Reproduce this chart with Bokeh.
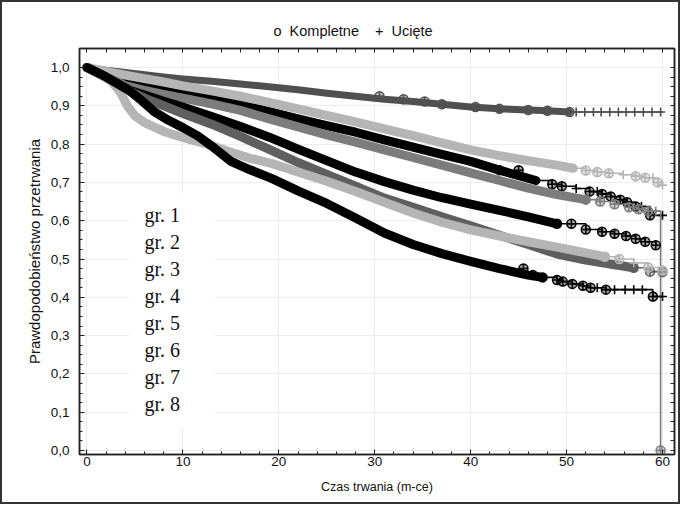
import numpy as np
from bokeh.plotting import figure
from bokeh.models import (Range1d, LinearAxis, FixedTicker, Label, BoxAnnotation)
from bokeh.embed import file_html
from bokeh.resources import INLINE

# ---------------- data ----------------
x_ticks = [0, 10, 20, 30, 40, 50, 60]
x_minor = [0, 2, 4, 6, 8, 10, 12, 14, 16, 18, 20, 22, 24, 26, 28, 30, 32, 34, 36, 38,
           40, 42, 44, 46, 48, 50, 52, 54, 56, 58, 60]
y_ticks = [0.0, 0.1, 0.2, 0.3, 0.4, 0.5, 0.6, 0.7, 0.8, 0.9, 1.0]
y_tick_labels = ["0,0", "0,1", "0,2", "0,3", "0,4", "0,5", "0,6", "0,7", "0,8", "0,9", "1,0"]
y_minor = [round(0.025 * i, 3) for i in range(0, 41)]

group_labels = ["gr. 1", "gr. 2", "gr. 3", "gr. 4", "gr. 5", "gr. 6", "gr. 7", "gr. 8"]
legend_labels = ["Kompletne", "Ucięte"]
legend_symbols = ["o", "+"]

# curve 1 (top, dark gray)
t1 = [0, 2, 4, 6, 8, 10, 13, 16, 19, 22, 25, 28, 31, 34, 37, 40, 43, 46, 48, 50.3, 60]
s1 = [1.0, 0.993, 0.987, 0.981, 0.975, 0.970, 0.964, 0.957, 0.950, 0.942, 0.933, 0.925,
      0.917, 0.911, 0.904, 0.897, 0.892, 0.889, 0.887, 0.884, 0.884]
ev1 = [30.5, 33.0, 35.2, 37.0, 40.5, 43.0, 46.0, 48.0, 50.3]
cen1 = [51.0, 51.9, 52.8, 53.6, 54.5, 55.4, 56.2, 57.1, 58.0, 58.9, 59.8]

# curve 2 (light gray, upper)
t2 = [0, 2, 4, 6, 8, 10, 13, 16, 19, 22, 25, 28, 31, 34, 37, 40, 43, 46, 49, 50.7, 52,
      53.2, 54.4, 55.9, 57.2, 58.2, 59.5, 60]
s2 = [1.0, 0.990, 0.980, 0.971, 0.962, 0.952, 0.939, 0.925, 0.909, 0.892, 0.875, 0.858,
      0.840, 0.822, 0.803, 0.785, 0.770, 0.757, 0.745, 0.737, 0.731, 0.727, 0.724, 0.720,
      0.716, 0.712, 0.700, 0.693]
ev2 = [52.0, 53.2, 54.4, 57.2, 58.2, 59.5]
cen2 = [50.7, 55.9, 59.0, 60.0]

# curve 3 (black, upper)
t3 = [0, 2, 4, 6, 8, 10, 13, 16, 19, 22, 25, 28, 31, 34, 37, 40, 43, 46.8, 48.5, 49.5,
      51, 52.4, 53.7, 54.6, 55.6, 56.3, 57.2, 58.7, 60]
s3 = [1.0, 0.982, 0.965, 0.955, 0.945, 0.935, 0.920, 0.903, 0.885, 0.866, 0.848, 0.831,
      0.811, 0.792, 0.773, 0.755, 0.732, 0.705, 0.695, 0.690, 0.684, 0.676, 0.670, 0.663,
      0.655, 0.648, 0.637, 0.614, 0.614]
ev3 = [43.0, 45.0, 48.5, 49.5, 52.4, 53.7, 54.6, 55.6, 56.3, 57.2, 58.7]
cen3 = [46.8, 51.0, 53.2, 57.8, 60.0]

# curve 4 (mid gray, drops to zero)
t4 = [0, 2, 4, 6, 8, 10, 13, 16, 19, 22, 25, 28, 31, 34, 37, 40, 43, 46, 49, 52, 53.5,
      55, 56.5, 57.5, 58.5, 59.8, 59.8]
s4 = [1.0, 0.975, 0.953, 0.940, 0.930, 0.920, 0.905, 0.888, 0.866, 0.845, 0.824, 0.805,
      0.785, 0.765, 0.745, 0.725, 0.705, 0.685, 0.668, 0.655, 0.650, 0.643, 0.635, 0.630,
      0.625, 0.622, 0.0]
ev4 = [52.0, 53.5, 55.0, 56.5, 57.5, 58.5, 59.8]
cen4 = [59.3]

# curve 5 (black, middle)
t5 = [0, 2, 4.5, 6, 8, 10, 13, 16, 19, 22, 25, 28, 31, 34, 37, 40, 43, 46, 49, 52, 53.7,
      55, 56.2, 57.2, 58.2, 59.3]
s5 = [1.0, 0.975, 0.940, 0.928, 0.912, 0.897, 0.872, 0.846, 0.818, 0.787, 0.757, 0.727,
      0.702, 0.680, 0.660, 0.643, 0.627, 0.610, 0.592, 0.577, 0.571, 0.566, 0.560, 0.553,
      0.545, 0.536]
ev5 = [49.0, 50.5, 52.0, 53.7, 55.0, 56.2, 57.2, 58.2, 59.3]
cen5 = []

# curve 6 (dark gray, lower)
t6 = [0, 2, 4.5, 6, 8, 10, 13, 16, 19, 22, 25, 28, 31, 34, 37, 40, 43, 46, 49, 52, 55,
      57, 58.7, 60]
s6 = [1.0, 0.975, 0.938, 0.920, 0.900, 0.880, 0.852, 0.820, 0.786, 0.752, 0.721, 0.690,
      0.659, 0.635, 0.610, 0.587, 0.562, 0.538, 0.513, 0.497, 0.485, 0.477, 0.467, 0.466]
ev6 = [57.0, 58.7, 60.0]
cen6 = []

# curve 7 (light gray, lower)
t7 = [0, 2.5, 3.5, 4.2, 5, 6, 8, 9.4, 11, 12.9, 15, 17, 19.3, 22, 25, 28, 31, 34, 37, 40,
      43, 46, 49, 52, 54, 55.5, 57, 58.5, 60]
s7 = [1.0, 0.965, 0.935, 0.900, 0.874, 0.856, 0.833, 0.822, 0.810, 0.797, 0.779, 0.763,
      0.749, 0.727, 0.703, 0.676, 0.648, 0.620, 0.596, 0.576, 0.560, 0.545, 0.531, 0.516,
      0.506, 0.500, 0.490, 0.478, 0.470]
ev7 = [54.0, 55.5, 58.5, 60.0]
cen7 = [57.0]

# curve 8 (black, bottom)
t8 = [0, 2, 4.5, 5.5, 7, 8.5, 10, 11.5, 13, 15, 17, 19.3, 22, 25, 28, 31, 34, 37, 40, 43,
      46, 47.5, 49, 49.6, 50.6, 51.7, 52.5, 54.1, 59.0, 60]
s8 = [1.0, 0.975, 0.938, 0.918, 0.885, 0.862, 0.843, 0.822, 0.795, 0.755, 0.733, 0.710,
      0.678, 0.645, 0.607, 0.568, 0.538, 0.514, 0.494, 0.475, 0.458, 0.452, 0.445, 0.441,
      0.435, 0.430, 0.425, 0.420, 0.402, 0.402]
ev8 = [45.5, 46.5, 47.5, 49.0, 49.6, 50.6, 51.7, 52.5, 54.1, 59.0]
cen8 = [53.2, 55.0, 56.1, 57.0, 57.9, 60.0]

# ---------------- styles (draw order: bottom first) ----------------
curves = [
    dict(t=t1, s=s1, ev=ev1, cen=cen1, color="#505050", band=50.3, bw=7),
    dict(t=t3, s=s3, ev=ev3, cen=cen3, color="#000000", band=46.8, bw=9),
    dict(t=t2, s=s2, ev=ev2, cen=cen2, color="#b5b5b5", band=50.7, bw=9),
    dict(t=t4, s=s4, ev=ev4, cen=cen4, color="#7c7c7c", band=52, bw=9),
    dict(t=t5, s=s5, ev=ev5, cen=cen5, color="#000000", band=49, bw=9),
    dict(t=t6, s=s6, ev=ev6, cen=cen6, color="#5f5f5f", band=57, bw=9),
    dict(t=t7, s=s7, ev=ev7, cen=cen7, color="#b5b5b5", band=54, bw=9),
    dict(t=t8, s=s8, ev=ev8, cen=cen8, color="#000000", band=47.5, bw=9),
]

FONT = "Liberation Sans"
AX = "#222222"
NB = "\u00a0"

p = figure(width=680, height=504, output_backend="svg", toolbar_location=None,
           x_range=Range1d(-0.78, 61.25), y_range=Range1d(-0.0104, 1.0496),
           min_border_left=77, min_border_right=8, min_border_top=46, min_border_bottom=52)
p.styles = {"border": "2px solid #333333"}
p.background_fill_color = "white"
p.border_fill_color = "white"
p.outline_line_color = AX
p.outline_line_width = 1.5

# legend line drawn as the title text above the frame
p.title.text = (legend_symbols[0] + NB * 2 + legend_labels[0] + NB * 4
                + legend_symbols[1] + NB * 2 + legend_labels[1])
p.title.text_font = FONT
p.title.text_font_size = "14.5px"
p.title.text_font_style = "normal"
p.title.text_color = "#111111"
p.title.align = "left"
p.title.offset = 194
p.title.standoff = 20

xt = FixedTicker(ticks=x_ticks, minor_ticks=x_minor)
yt = FixedTicker(ticks=y_ticks, minor_ticks=y_minor)

xa = p.xaxis[0]
xa.ticker = xt
xa.axis_label = "Czas trwania (m-ce)"
ya = p.yaxis[0]
ya.ticker = yt
ya.axis_label = "Prawdopodobieństwo przetrwania"
ya.major_label_overrides = {v: lab for v, lab in zip(y_ticks, y_tick_labels)}

for ax in (xa, ya):
    ax.major_label_text_font = FONT
    ax.major_label_text_font_size = "13.5px"
    ax.major_label_text_color = "#111111"
    ax.axis_label_text_font = FONT
    ax.axis_label_text_font_style = "normal"
    ax.axis_label_text_color = "#111111"
    ax.axis_line_color = AX
    ax.axis_line_width = 1.5
    ax.major_tick_in = 5
    ax.major_tick_out = 0
    ax.minor_tick_in = 3
    ax.minor_tick_out = 0
    ax.major_tick_line_color = AX
    ax.minor_tick_line_color = AX
xa.axis_label_text_font_size = "12.5px"
ya.axis_label_text_font_size = "15px"
xa.major_label_standoff = 2
xa.axis_label_standoff = 11
ya.major_label_standoff = 10
ya.axis_label_standoff = 5

# frame ticks on top and right (no labels: only minor ticks)
top_ax = LinearAxis(ticker=FixedTicker(ticks=[], minor_ticks=x_minor))
right_ax = LinearAxis(ticker=FixedTicker(ticks=[], minor_ticks=y_minor))
for ax in (top_ax, right_ax):
    ax.axis_line_color = AX
    ax.axis_line_width = 1.5
    ax.major_tick_in = 0
    ax.major_tick_out = 0
    ax.minor_tick_in = 4
    ax.minor_tick_out = 0
    ax.minor_tick_line_color = AX
    ax.major_label_standoff = 0
p.add_layout(top_ax, "above")
p.add_layout(right_ax, "right")

p.xgrid.ticker = xt
p.ygrid.ticker = yt
for g in (p.xgrid, p.ygrid):
    g.grid_line_color = "#ececec"
    g.grid_line_width = 1


def step_value(ts, ss, q):
    idx = np.searchsorted(np.asarray(ts), q, side="right") - 1
    return float(np.asarray(ss)[idx])


for c in curves:
    t = np.asarray(c["t"], dtype=float)
    s = np.asarray(c["s"], dtype=float)
    band = t <= c["band"]
    tail = t >= c["band"]
    lc = c["color"]
    p.line(t[band], s[band], line_width=c["bw"], line_color=lc,
           line_join="round", line_cap="round")
    p.step(t[tail], s[tail], mode="after", line_width=1.6, line_color=lc)
    if c["ev"]:
        ey = [step_value(t, s, q) for q in c["ev"]]
        p.scatter(c["ev"], ey, marker="circle_cross", size=9, line_color=lc,
                  line_width=1.5, fill_color=lc, fill_alpha=0.35)
    if c["cen"]:
        cy = [step_value(t, s, q) for q in c["cen"]]
        p.scatter(c["cen"], cy, marker="cross", size=9, line_color=lc, line_width=1.6)

# white box behind group labels
box = BoxAnnotation(left=4.4, right=13.3, bottom=0.06, top=0.67,
                    fill_color="white", fill_alpha=1.0, line_color=None)
p.add_layout(box)
for i, lab in enumerate(group_labels):
    p.add_layout(Label(x=6.0, y=0.614 - i * 0.0703, text=lab,
                       text_font="Liberation Serif", text_font_size="20px",
                       text_color="#111111", text_baseline="middle"))

open("out.html", "w").write(file_html(p, INLINE))
